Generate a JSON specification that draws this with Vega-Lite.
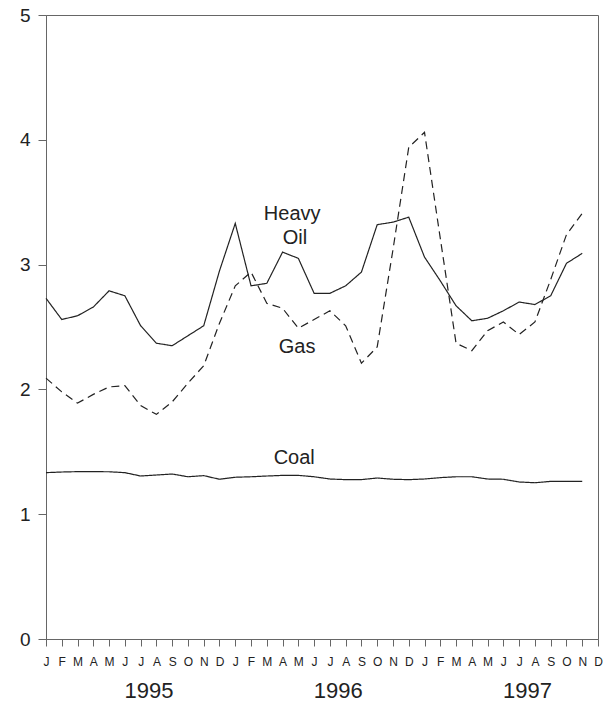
{
  "$schema": "https://vega.github.io/schema/vega-lite/v6.json",
  "autosize": {"type": "none"},
  "padding": {"left": 46, "top": 15, "right": 15, "bottom": 65},
  "width": 552,
  "height": 624,
  "config": {
    "font": "Liberation Sans",
    "view": {"stroke": "#666", "strokeWidth": 1},
    "axis": {"grid": false, "title": null, "domainColor": "#666", "tickColor": "#666", "labelColor": "#222", "labelFont": "Liberation Sans"}
  },
  "datasets": {
    "series": [
      {"t":0,"s":"Heavy Oil","v":2.73},{"t":1,"s":"Heavy Oil","v":2.56},{"t":2,"s":"Heavy Oil","v":2.59},{"t":3,"s":"Heavy Oil","v":2.66},{"t":4,"s":"Heavy Oil","v":2.79},{"t":5,"s":"Heavy Oil","v":2.75},{"t":6,"s":"Heavy Oil","v":2.51},{"t":7,"s":"Heavy Oil","v":2.37},{"t":8,"s":"Heavy Oil","v":2.35},{"t":9,"s":"Heavy Oil","v":2.43},{"t":10,"s":"Heavy Oil","v":2.51},{"t":11,"s":"Heavy Oil","v":2.95},
      {"t":12,"s":"Heavy Oil","v":3.33},{"t":13,"s":"Heavy Oil","v":2.83},{"t":14,"s":"Heavy Oil","v":2.85},{"t":15,"s":"Heavy Oil","v":3.10},{"t":16,"s":"Heavy Oil","v":3.05},{"t":17,"s":"Heavy Oil","v":2.77},{"t":18,"s":"Heavy Oil","v":2.77},{"t":19,"s":"Heavy Oil","v":2.83},{"t":20,"s":"Heavy Oil","v":2.94},{"t":21,"s":"Heavy Oil","v":3.32},{"t":22,"s":"Heavy Oil","v":3.34},{"t":23,"s":"Heavy Oil","v":3.38},
      {"t":24,"s":"Heavy Oil","v":3.06},{"t":25,"s":"Heavy Oil","v":2.87},{"t":26,"s":"Heavy Oil","v":2.67},{"t":27,"s":"Heavy Oil","v":2.55},{"t":28,"s":"Heavy Oil","v":2.57},{"t":29,"s":"Heavy Oil","v":2.63},{"t":30,"s":"Heavy Oil","v":2.70},{"t":31,"s":"Heavy Oil","v":2.68},{"t":32,"s":"Heavy Oil","v":2.75},{"t":33,"s":"Heavy Oil","v":3.01},{"t":34,"s":"Heavy Oil","v":3.09},
      {"t":0,"s":"Gas","v":2.09},{"t":1,"s":"Gas","v":1.98},{"t":2,"s":"Gas","v":1.89},{"t":3,"s":"Gas","v":1.96},{"t":4,"s":"Gas","v":2.02},{"t":5,"s":"Gas","v":2.03},{"t":6,"s":"Gas","v":1.87},{"t":7,"s":"Gas","v":1.80},{"t":8,"s":"Gas","v":1.90},{"t":9,"s":"Gas","v":2.05},{"t":10,"s":"Gas","v":2.19},{"t":11,"s":"Gas","v":2.53},
      {"t":12,"s":"Gas","v":2.83},{"t":13,"s":"Gas","v":2.94},{"t":14,"s":"Gas","v":2.69},{"t":15,"s":"Gas","v":2.65},{"t":16,"s":"Gas","v":2.49},{"t":17,"s":"Gas","v":2.56},{"t":18,"s":"Gas","v":2.63},{"t":19,"s":"Gas","v":2.51},{"t":20,"s":"Gas","v":2.21},{"t":21,"s":"Gas","v":2.34},{"t":22,"s":"Gas","v":3.12},{"t":23,"s":"Gas","v":3.94},
      {"t":24,"s":"Gas","v":4.06},{"t":25,"s":"Gas","v":3.21},{"t":26,"s":"Gas","v":2.37},{"t":27,"s":"Gas","v":2.31},{"t":28,"s":"Gas","v":2.47},{"t":29,"s":"Gas","v":2.54},{"t":30,"s":"Gas","v":2.44},{"t":31,"s":"Gas","v":2.54},{"t":32,"s":"Gas","v":2.88},{"t":33,"s":"Gas","v":3.24},{"t":34,"s":"Gas","v":3.41},
      {"t":0,"s":"Coal","v":1.333},{"t":1,"s":"Coal","v":1.338},{"t":2,"s":"Coal","v":1.341},{"t":3,"s":"Coal","v":1.341},{"t":4,"s":"Coal","v":1.34},{"t":5,"s":"Coal","v":1.333},{"t":6,"s":"Coal","v":1.306},{"t":7,"s":"Coal","v":1.314},{"t":8,"s":"Coal","v":1.322},{"t":9,"s":"Coal","v":1.30},{"t":10,"s":"Coal","v":1.309},{"t":11,"s":"Coal","v":1.28},
      {"t":12,"s":"Coal","v":1.296},{"t":13,"s":"Coal","v":1.30},{"t":14,"s":"Coal","v":1.306},{"t":15,"s":"Coal","v":1.311},{"t":16,"s":"Coal","v":1.311},{"t":17,"s":"Coal","v":1.30},{"t":18,"s":"Coal","v":1.282},{"t":19,"s":"Coal","v":1.277},{"t":20,"s":"Coal","v":1.277},{"t":21,"s":"Coal","v":1.29},{"t":22,"s":"Coal","v":1.28},{"t":23,"s":"Coal","v":1.277},
      {"t":24,"s":"Coal","v":1.282},{"t":25,"s":"Coal","v":1.293},{"t":26,"s":"Coal","v":1.30},{"t":27,"s":"Coal","v":1.30},{"t":28,"s":"Coal","v":1.282},{"t":29,"s":"Coal","v":1.28},{"t":30,"s":"Coal","v":1.258},{"t":31,"s":"Coal","v":1.252},{"t":32,"s":"Coal","v":1.263},{"t":33,"s":"Coal","v":1.263},{"t":34,"s":"Coal","v":1.263}
    ],
    "labels": [
      {"t":15.61,"v":3.355,"label":"Heavy"},
      {"t":15.79,"v":3.162,"label":"Oil"},
      {"t":15.92,"v":2.293,"label":"Gas"},
      {"t":15.74,"v":1.40,"label":"Coal"}
    ]
  },
  "layer": [
    {
      "data": {"name": "series"},
      "mark": {"type": "line", "strokeWidth": 1.2, "color": "#222"},
      "encoding": {
        "x": {"field": "t", "type": "quantitative", "scale": {"domain": [0, 35], "nice": false, "zero": false},
          "axis": {"orient": "bottom", "values": [0,1,2,3,4,5,6,7,8,9,10,11,12,13,14,15,16,17,18,19,20,21,22,23,24,25,26,27,28,29,30,31,32,33,34,35],
            "labelExpr": "['J','F','M','A','M','J','J','A','S','O','N','D'][datum.value % 12]",
            "tickSize": 7, "labelFontSize": 12, "labelPadding": 10, "labelFlush": false, "labelOverlap": false}},
        "y": {"field": "v", "type": "quantitative", "scale": {"domain": [0, 5], "nice": false},
          "axis": {"values": [0,1,2,3,4,5], "format": "d", "tickSize": 8, "labelPadding": 8, "labelFontSize": 19}},
        "strokeDash": {"field": "s", "type": "nominal", "scale": {"domain": ["Heavy Oil","Gas","Coal"], "range": [[1,0],[8,5],[1,0]]}, "legend": null}
      }
    },
    {
      "data": {"name": "labels"},
      "mark": {"type": "text", "fontSize": 20, "align": "center", "baseline": "alphabetic", "color": "#222"},
      "encoding": {
        "x": {"field": "t", "type": "quantitative",
          "axis": {"orient": "bottom", "values": [6.5, 18.5, 30.5], "labelExpr": "datum.value < 12 ? '1995' : (datum.value < 24 ? '1996' : '1997')",
            "domain": false, "ticks": false, "labelFontSize": 22, "labelPadding": 41, "labelFlush": false}},
        "y": {"field": "v", "type": "quantitative"},
        "text": {"field": "label"}
      }
    }
  ],
  "resolve": {"axis": {"x": "independent"}}
}
